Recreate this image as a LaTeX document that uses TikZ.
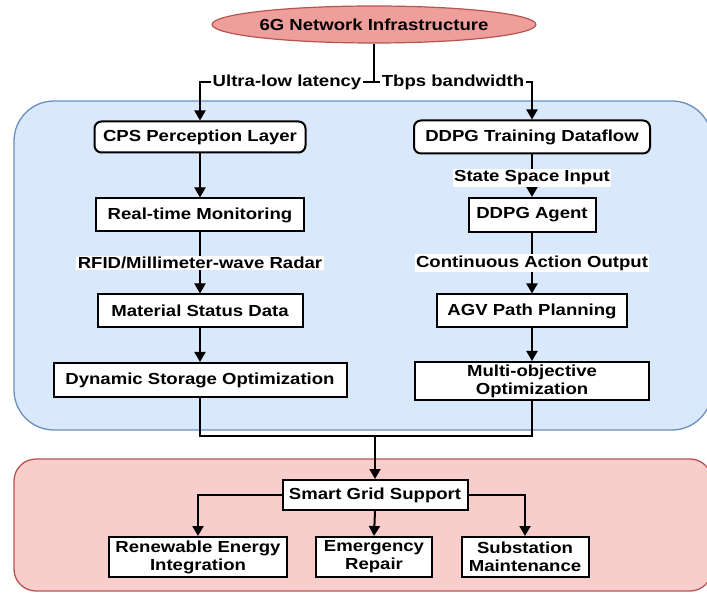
\documentclass[tikz,border=0pt]{standalone}
\usepackage{fontspec}
\setmainfont{Liberation Sans}[FakeStretch=1.16]
\usetikzlibrary{arrows.meta,shapes.geometric}
\definecolor{bluefill}{HTML}{DAE8FC}
\definecolor{bluedraw}{HTML}{6C8EBF}
\definecolor{redfill}{HTML}{F8CECC}
\definecolor{reddraw}{HTML}{B85450}
\definecolor{ellfill}{HTML}{EE9E9B}
\begin{document}
\begin{tikzpicture}[x=1pt,y=-1pt,
  font=\fontsize{16}{18}\selectfont\bfseries,
  box/.style={draw=black,line width=2pt,fill=white,inner sep=2pt,align=center},
  rbox/.style={box,rounded corners=7pt},
  lbl/.style={fill=white,inner sep=1.5pt},
  arr/.style={line width=2pt,-{Triangle[length=10pt,width=11pt]}},
  ln/.style={line width=2pt},
  panel/.style={line width=1.3pt}]
\useasboundingbox (0,0) rectangle (707,593);

% layer panels
\draw[panel,draw=bluedraw,fill=bluefill,rounded corners=40pt] (14,101) rectangle (712,430);
\draw[panel,draw=reddraw,fill=redfill,rounded corners=22pt] (14,459) rectangle (712,591);

% top node
\node[ellipse,draw=reddraw,line width=1.2pt,fill=ellfill,minimum width=252pt,minimum height=37pt,inner sep=0pt] (net) at (374,24.5) {6G Network Infrastructure};

% left column
\node[rbox,minimum width=211pt,minimum height=31pt] (cps) at (200,137) {CPS Perception Layer};
\node[box,minimum width=208pt,minimum height=33pt] (rtm) at (200,215) {Real-time Monitoring};
\node[box,minimum width=205pt,minimum height=33pt] (msd) at (200,311) {Material Status Data};
\node[box,minimum width=293pt,minimum height=34pt] (dso) at (200,380) {Dynamic Storage Optimization};

% right column
\node[rbox,minimum width=236pt,minimum height=33pt] (ddpg) at (532,137) {DDPG Training Dataflow};
\node[box,minimum width=127pt,minimum height=34pt] (agent) at (532,215) {DDPG Agent};
\node[box,minimum width=190pt,minimum height=33pt] (agv) at (532,311) {AGV Path Planning};
\node[box,minimum width=234pt,minimum height=38pt] (moo) at (532,381) {Multi-objective\\Optimization};

% smart grid layer
\node[box,minimum width=185pt,minimum height=30pt] (sgs) at (375,495) {Smart Grid Support};
\node[box,minimum width=178pt,minimum height=40pt] (rei) at (198,557) {Renewable Energy\\Integration};
\node[box,minimum width=116pt,minimum height=40pt] (er) at (374,557) {Emergency\\Repair};
\node[box,minimum width=127pt,minimum height=40pt] (sm) at (525,557) {Substation\\Maintenance};

% junction points
\coordinate (split) at (374,82);
\coordinate (join) at (375,436);

% network links
\draw[ln] (net.south) -- (split);
\draw[arr] (split) -| node[lbl,pos=0.25] {Ultra-low latency} (cps.north);
\draw[arr] (split) -| node[lbl,pos=0.25] {Tbps bandwidth} (ddpg.north);

% left flow
\draw[arr] (cps) -- (rtm);
\draw[arr] (rtm) -- node[lbl] {RFID/Millimeter-wave Radar} (msd);
\draw[arr] (msd) -- (dso);

% right flow
\draw[arr] (ddpg) -- node[lbl,pos=0.55] {State Space Input} (agent);
\draw[arr] (agent) -- node[lbl] {Continuous Action Output} (agv);
\draw[arr] (agv) -- (moo);

% merge into smart grid
\draw[ln] (dso.south) |- (join);
\draw[ln] (moo.south) |- (join);
\draw[arr] (join) -- (sgs.north);

% smart grid branches
\draw[arr] (sgs.west) -| (rei.north);
\draw[arr] (sgs.south) -- (er.north);
\draw[arr] (sgs.east) -| (sm.north);
\end{tikzpicture}
\end{document}
